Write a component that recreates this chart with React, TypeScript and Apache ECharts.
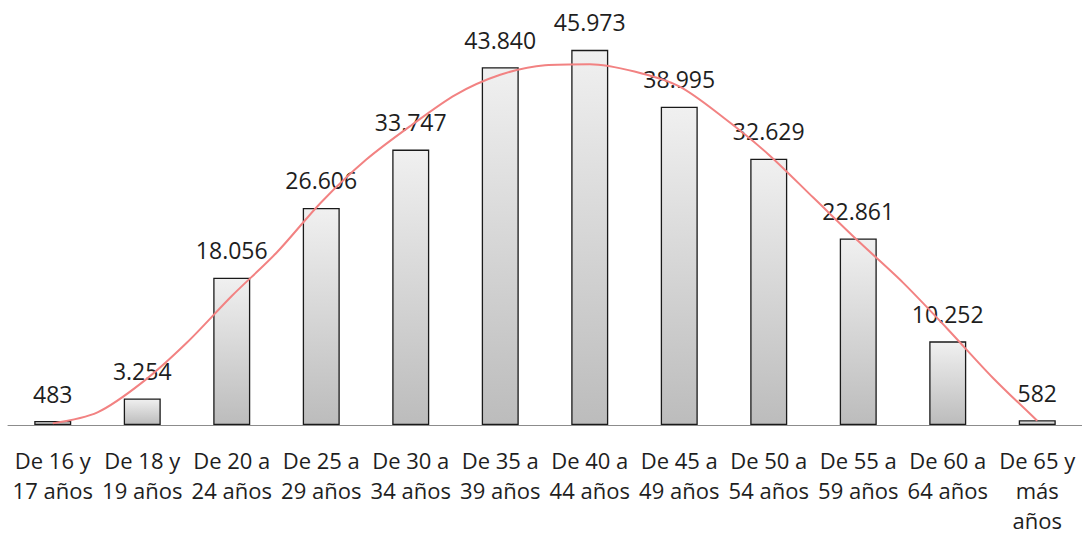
import React, { useEffect, useRef } from "react";
import * as echarts from "echarts";

const categories = [
  "De 16 y\n17 años",
  "De 18 y\n19 años",
  "De 20 a\n24 años",
  "De 25 a\n29 años",
  "De 30 a\n34 años",
  "De 35 a\n39 años",
  "De 40 a\n44 años",
  "De 45 a\n49 años",
  "De 50 a\n54 años",
  "De 55 a\n59 años",
  "De 60 a\n64 años",
  "De 65 y\nmás\naños",
];

const values = [483, 3254, 18056, 26606, 33747, 43840, 45973, 38995, 32629, 22861, 10252, 582];

// trend line every half category (position, value)
const trendPos = [0, 0.5, 1, 1.5, 2, 2.5, 3, 3.5, 4, 4.5, 5, 5.5, 6, 6.5, 7, 7.5, 8, 8.5, 9, 9.5, 10, 10.5, 11];
const trendVal = [
  200, 1550, 5220, 10110, 15810, 21110, 27300, 32500, 36680, 40470, 42920, 44100,
  44220, 43320, 41490, 37620, 33130, 27840, 22540, 17450, 11740, 5830, 530,
];

const fmt = (v: number) => String(v).replace(/\B(?=(\d{3})+(?!\d))/g, ".");

export default function App() {
  const ref = useRef<HTMLDivElement>(null);
  useEffect(() => {
    if (!ref.current) return;
    const chart = echarts.init(ref.current, undefined, { renderer: "svg" });
    chart.setOption({
      animation: false,
      backgroundColor: "#ffffff",
      grid: { left: 8, right: -6, top: 17, bottom: 109 },
      xAxis: [
        {
          type: "category",
          data: categories,
          axisTick: { show: false },
          axisLine: { lineStyle: { color: "#8c8c8c", width: 1 } },
          axisLabel: {
            interval: 0,
            margin: 20,
            color: "#1e1e1e",
            fontFamily: "Open Sans",
            fontSize: 22,
            lineHeight: 30,
          },
        },
        {
          type: "value",
          min: -0.5,
          max: 11.5,
          show: false,
          splitLine: { show: false },
        },
      ],
      yAxis: {
        type: "value",
        min: 0,
        max: 50000,
        show: false,
        splitLine: { show: false },
      },
      series: [
        {
          type: "bar",
          data: values,
          barWidth: 37,
          itemStyle: {
            color: new echarts.graphic.LinearGradient(0, 0, 0, 1, [
              { offset: 0, color: "#f0f0f0" },
              { offset: 1, color: "#bcbcbc" },
            ]),
            borderColor: "#1a1a1a",
            borderWidth: 1.3,
          },
          label: {
            show: true,
            position: "top",
            distance: 16,
            color: "#1e1e1e",
            fontFamily: "Open Sans",
            fontSize: 23,
            formatter: (p: any) => fmt(p.value),
          },
        },
        {
          type: "line",
          xAxisIndex: 1,
          data: trendPos.map((x, i) => [x, trendVal[i]]),
          smooth: 0.3,
          symbol: "none",
          z: 5,
          lineStyle: { color: "#f28282", width: 2 },
        },
      ],
    });
    return () => chart.dispose();
  }, []);
  return (
    <div
      ref={ref}
      style={{ position: "fixed", left: 0, top: 0, width: 1082, height: 535 }}
    />
  );
}
